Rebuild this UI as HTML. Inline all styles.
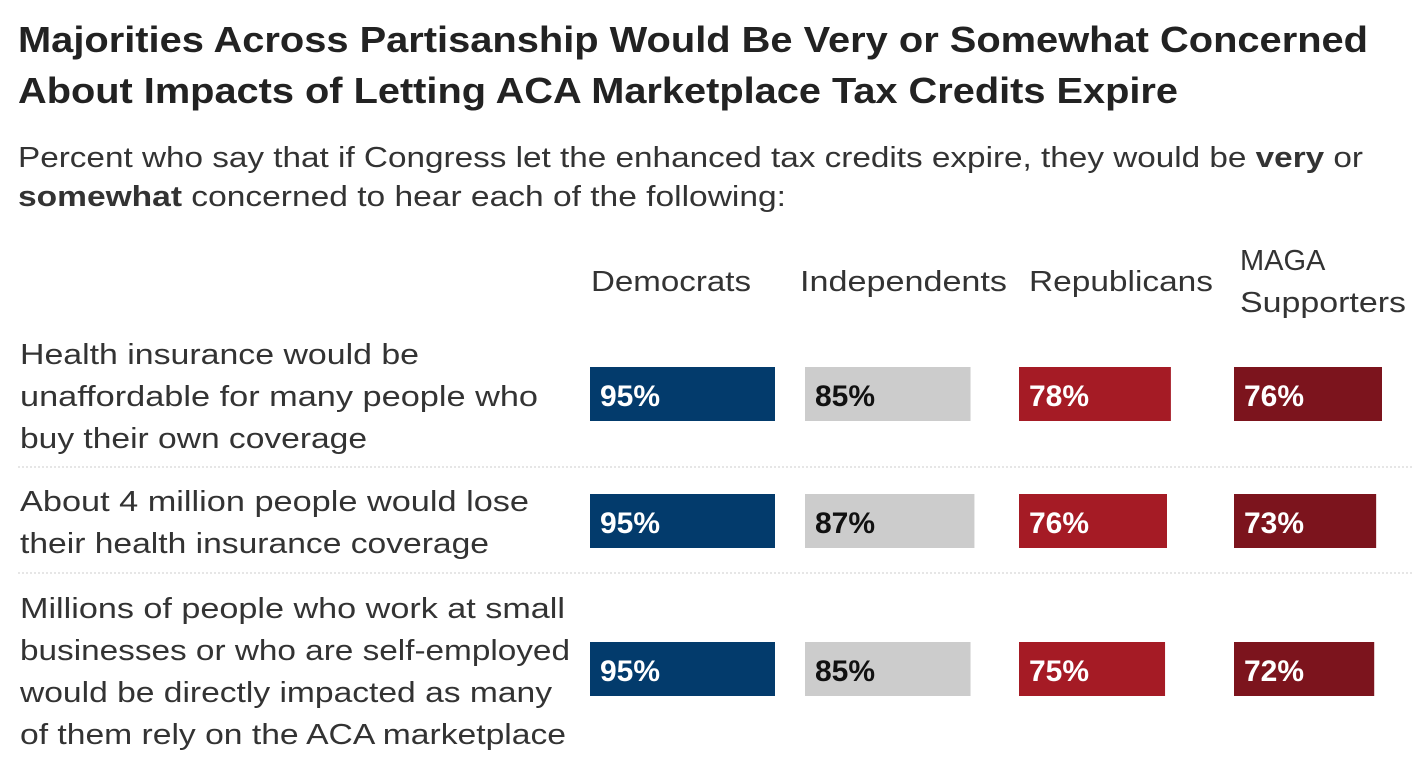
<!DOCTYPE html>
<html><head><meta charset="utf-8"><style>
body{margin:0;background:#fff}
svg{display:block;font-family:"Liberation Sans",sans-serif}
</style></head><body>
<svg id="chart" width="1414" height="780">
<text x="18" y="52" font-size="36" font-weight="bold" fill="#222" textLength="1350" lengthAdjust="spacingAndGlyphs">Majorities Across Partisanship Would Be Very or Somewhat Concerned</text>
<text x="18" y="103" font-size="36" font-weight="bold" fill="#222" textLength="1160" lengthAdjust="spacingAndGlyphs">About Impacts of Letting ACA Marketplace Tax Credits Expire</text>
<text x="18" y="167" font-size="29" fill="#333" textLength="1345" lengthAdjust="spacingAndGlyphs">Percent who say that if Congress let the enhanced tax credits expire, they would be <tspan font-weight="bold">very</tspan> or</text>
<text x="18" y="206" font-size="29" fill="#333" textLength="768" lengthAdjust="spacingAndGlyphs"><tspan font-weight="bold">somewhat</tspan> concerned to hear each of the following:</text>
<g id="g"></g>
</svg>
<script>
const groups=["Democrats","Independents","Republicans","MAGA Supporters"];
const items=[
 ["Health insurance would be","unaffordable for many people who","buy their own coverage"],
 ["About 4 million people would lose","their health insurance coverage"],
 ["Millions of people who work at small","businesses or who are self-employed","would be directly impacted as many","of them rely on the ACA marketplace"]];
const dem=[95,95,95];
const ind=[85,87,85];
const rep=[78,76,75];
const maga=[76,73,72];
const series=[dem,ind,rep,maga];
const colors=["#033b6c","#cccccc","#a51b25","#7c141d"];
const textCol=["#fff","#111","#fff","#fff"];
const colX=[590,805,1019,1234];
const headX=[591,800,1029,1240];
const scale=185/95;
const x=v=>v*scale;
const rowBarY=[367,494,642];
const rowLabelY=[364,511,618];
const divY=[467,573];
const ns="http://www.w3.org/2000/svg";
const g=document.getElementById('g');
function mk(t,a,txt){const e=document.createElementNS(ns,t);for(const k in a)e.setAttribute(k,a[k]);if(txt!=null)e.textContent=txt;g.appendChild(e);return e;}
groups.forEach((name,i)=>{
 if(name==="MAGA Supporters"){
  let e=mk('text',{x:headX[i],y:270,'font-size':29,fill:'#333'},"MAGA");
  
  
  e=mk('text',{x:headX[i],y:312,'font-size':29,fill:'#333',textLength:166,lengthAdjust:'spacingAndGlyphs'},"Supporters");
  
  
 } else {
  const w=[160,207,184][i];
  const e=mk('text',{x:headX[i],y:291,'font-size':29,fill:'#333',textLength:w,lengthAdjust:'spacingAndGlyphs'},name);
  
  
 }
});
const lw=[[399,518,347],[509,469],[545,550,532,546]];
items.forEach((lines,r)=>{
 lines.forEach((l,j)=>{
  const e=mk('text',{x:20,y:rowLabelY[r]+j*42,'font-size':29,fill:'#333',textLength:lw[r][j],lengthAdjust:'spacingAndGlyphs'},l);
  
  
 });
 series.forEach((s,i)=>{
  const b=mk('rect',{x:colX[i],y:rowBarY[r],width:x(s[r]),height:54,fill:colors[i]});
  
  
  const t=mk('text',{x:colX[i]+10,y:rowBarY[r]+39,'font-size':30,'font-weight':'bold',fill:textCol[i]},s[r]+"%");
  
  
 });
});
divY.forEach(y=>{
 const d=mk('line',{x1:18,x2:1414,y1:y,y2:y,stroke:'#ccc','stroke-dasharray':'2 2'});
 
 
});
</script>
</body></html>
